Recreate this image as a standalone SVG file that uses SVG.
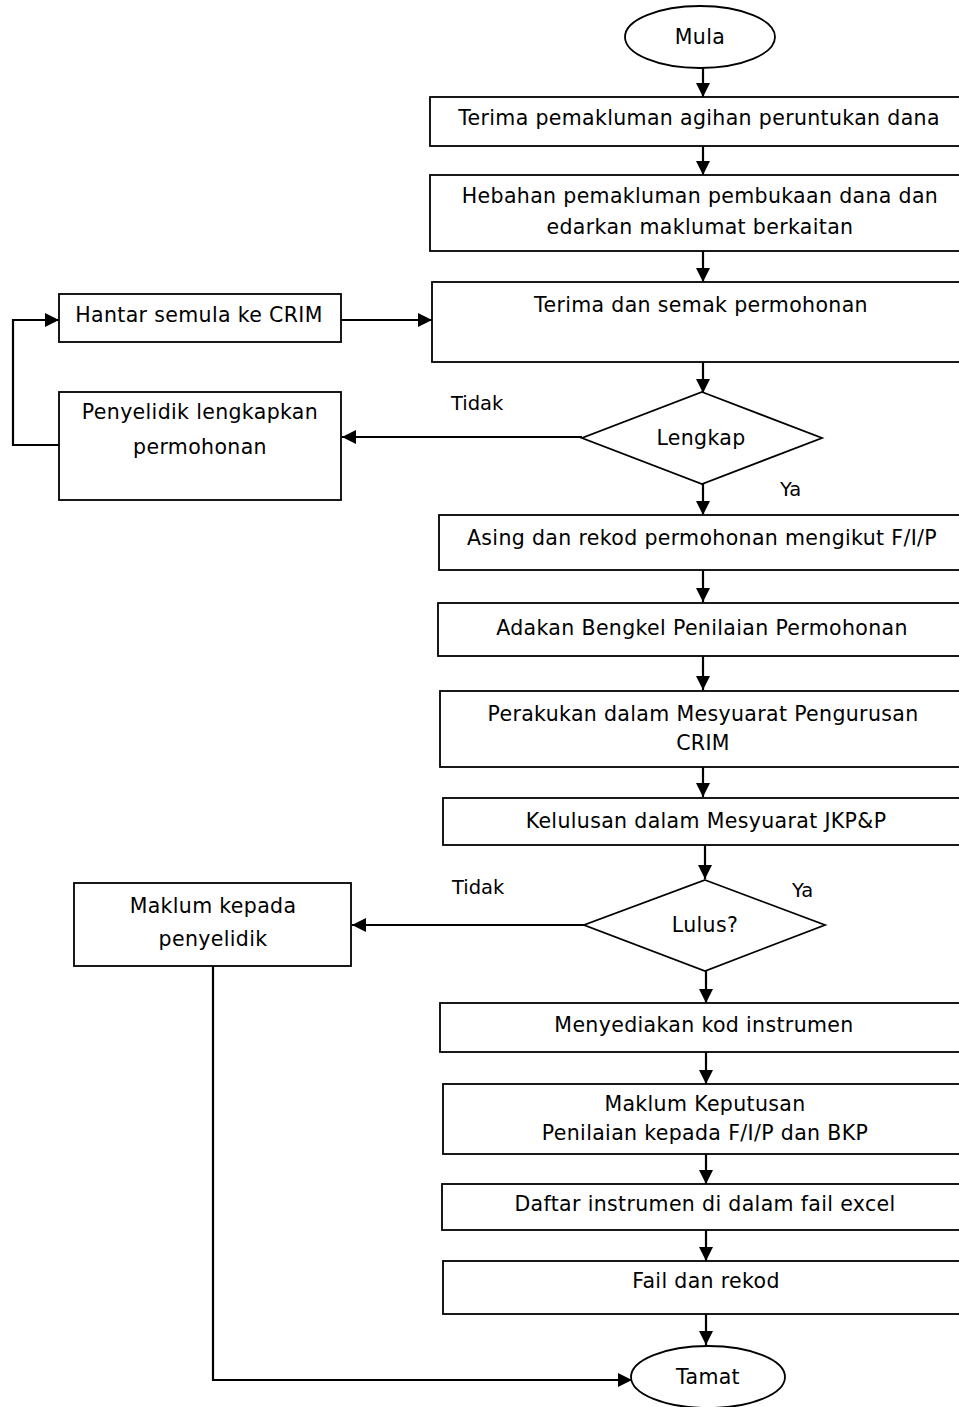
<svg xmlns="http://www.w3.org/2000/svg" width="959" height="1407" viewBox="0 0 959 1407">
<style>
.n{fill:#fff;stroke:#000;stroke-width:1.8}
.t{font-family:"DejaVu Sans","Liberation Sans",sans-serif;font-size:20.5px;letter-spacing:0.35px;text-anchor:middle;fill:#000}
.l{font-family:"DejaVu Sans","Liberation Sans",sans-serif;font-size:19.5px;fill:#000}
.c{fill:none;stroke:#000;stroke-width:2.2}
</style>
<defs>
<marker id="a" markerUnits="userSpaceOnUse" markerWidth="14" markerHeight="14" refX="14" refY="7" orient="auto">
<path d="M0,0 L14,7 L0,14 z" fill="#000"/>
</marker>
</defs>
<rect width="959" height="1407" fill="#fff"/>
<g id="connectors">
<path class="c" d="M703,68 V97" marker-end="url(#a)"/>
<path class="c" d="M703,146 V175" marker-end="url(#a)"/>
<path class="c" d="M703,251 V282" marker-end="url(#a)"/>
<path class="c" d="M341,320 H432" marker-end="url(#a)"/>
<path class="c" d="M59,445 H13 V320 H59" marker-end="url(#a)"/>
<path class="c" d="M703,362 V393" marker-end="url(#a)"/>
<path class="c" d="M582,437 H342" marker-end="url(#a)"/>
<path class="c" d="M703,484 V515" marker-end="url(#a)"/>
<path class="c" d="M703,570 V602" marker-end="url(#a)"/>
<path class="c" d="M703,656 V690" marker-end="url(#a)"/>
<path class="c" d="M703,767 V797" marker-end="url(#a)"/>
<path class="c" d="M705,845 V879" marker-end="url(#a)"/>
<path class="c" d="M584,925 H352" marker-end="url(#a)"/>
<path class="c" d="M706,971 V1003" marker-end="url(#a)"/>
<path class="c" d="M706,1052 V1084" marker-end="url(#a)"/>
<path class="c" d="M706,1154 V1184" marker-end="url(#a)"/>
<path class="c" d="M706,1230 V1261" marker-end="url(#a)"/>
<path class="c" d="M706,1314 V1345" marker-end="url(#a)"/>
<path class="c" d="M213,966 V1380 H632" marker-end="url(#a)"/>
<text class="l" x="451" y="410">Tidak</text>
<text class="l" x="780" y="496">Ya</text>
<text class="l" x="452" y="894">Tidak</text>
<text class="l" x="792" y="897">Ya</text>
</g>
<g id="mula"><ellipse class="n" cx="700" cy="37" rx="75" ry="31"/><text class="t" x="700" y="44">Mula</text></g>
<g id="terima-pemakluman"><rect class="n" x="430" y="97" width="540" height="49"/><text class="t" x="699" y="125">Terima pemakluman agihan peruntukan dana</text></g>
<g id="hebahan"><rect class="n" x="430" y="175" width="540" height="76"/><text class="t" x="700" y="203">Hebahan pemakluman pembukaan dana dan</text><text class="t" x="700" y="234">edarkan maklumat berkaitan</text></g>
<g id="terima-semak"><rect class="n" x="432" y="282" width="538" height="80"/><text class="t" x="701" y="312">Terima dan semak permohonan</text></g>
<g id="hantar-semula"><rect class="n" x="59" y="294" width="282" height="48"/><text class="t" x="199" y="322">Hantar semula ke CRIM</text></g>
<g id="penyelidik"><rect class="n" x="59" y="392" width="282" height="108"/><text class="t" x="200" y="419">Penyelidik lengkapkan</text><text class="t" x="200" y="454">permohonan</text></g>
<g id="lengkap"><polygon class="n" points="702,392 822,438 702,484 582,438"/><text class="t" x="701" y="445">Lengkap</text></g>
<g id="asing"><rect class="n" x="439" y="515" width="531" height="55"/><text class="t" x="702" y="545">Asing dan rekod permohonan mengikut F/I/P</text></g>
<g id="adakan"><rect class="n" x="438" y="603" width="532" height="53"/><text class="t" x="702" y="635">Adakan Bengkel Penilaian Permohonan</text></g>
<g id="perakukan"><rect class="n" x="440" y="691" width="530" height="76"/><text class="t" x="703" y="721">Perakukan dalam Mesyuarat Pengurusan</text><text class="t" x="703" y="750">CRIM</text></g>
<g id="kelulusan"><rect class="n" x="443" y="798" width="527" height="47"/><text class="t" x="706" y="828">Kelulusan dalam Mesyuarat JKP&amp;P</text></g>
<g id="lulus"><polygon class="n" points="705,880 825,925 705,971 584,925"/><text class="t" x="705" y="932">Lulus?</text></g>
<g id="maklum-penyelidik"><rect class="n" x="74" y="883" width="277" height="83"/><text class="t" x="213" y="913">Maklum kepada</text><text class="t" x="213" y="946">penyelidik</text></g>
<g id="menyediakan"><rect class="n" x="440" y="1003" width="530" height="49"/><text class="t" x="704" y="1032">Menyediakan kod instrumen</text></g>
<g id="maklum-keputusan"><rect class="n" x="443" y="1084" width="527" height="70"/><text class="t" x="705" y="1111">Maklum Keputusan</text><text class="t" x="705" y="1140">Penilaian kepada F/I/P dan BKP</text></g>
<g id="daftar"><rect class="n" x="442" y="1184" width="528" height="46"/><text class="t" x="705" y="1211">Daftar instrumen di dalam fail excel</text></g>
<g id="fail"><rect class="n" x="443" y="1261" width="527" height="53"/><text class="t" x="706" y="1288">Fail dan rekod</text></g>
<g id="tamat"><ellipse class="n" cx="708" cy="1377" rx="77" ry="31"/><text class="t" x="708" y="1384">Tamat</text></g>
</svg>
